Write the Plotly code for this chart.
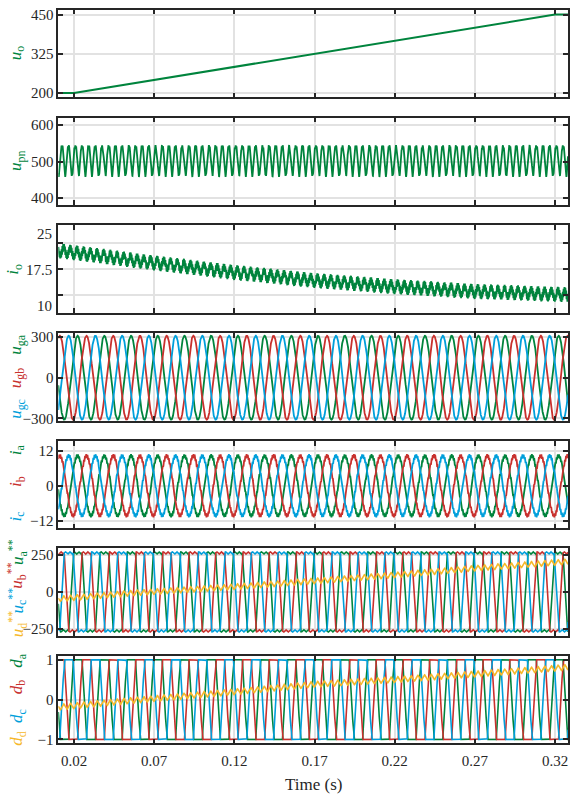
import numpy as np
import plotly.graph_objects as go

# ---------------- values ----------------
X_RANGE = [0.0102, 0.3281]
X_TICKS = [0.02, 0.07, 0.12, 0.17, 0.22, 0.27, 0.32]
X_TICK_TEXT = ["0.02", "0.07", "0.12", "0.17", "0.22", "0.27", "0.32"]

# panel 1 : output voltage u_o (piecewise straight)
UO_T = [0.0102, 0.02, 0.32, 0.3281]
UO_V = [200, 200, 450, 450]

# panel 2 : dc-link voltage u_pn
UPN_TOP = 541
UPN_DIP = 79
RIPPLE_HZ = 240

# panel 3 : output current i_o (band centre read at times)
IO_T = [0.0102, 0.07, 0.12, 0.17, 0.22, 0.27, 0.3281]
IO_MEAN = [21.6, 19.0, 17.0, 15.3, 14.0, 13.0, 12.3]
IO_SWING = 1.6

# panels 4-7 : grid quantities
F_GRID = 60.0
T_PEAK_A = 0.00556          # time where u_ga peaks
UG_PEAK = 311.0
I_PEAK = 10.2
I_RIPPLE = 0.6
USTAR_FLAT = 262.0
USTAR_RIPPLE = 8.0
UDD_T = [0.0102, 0.057, 0.119, 0.169, 0.22, 0.27, 0.3281]
UDD_MEAN = [-47, -7, 34, 73, 114, 159, 204]
UDD_SWING = 18
DD_T = [0.0102, 0.057, 0.119, 0.169, 0.22, 0.27, 0.3281]
DD_MEAN = [-0.19, -0.02, 0.19, 0.38, 0.50, 0.64, 0.81]
DD_SWING = 0.07

Y_RANGES = [[186.5, 465.7], [380.5, 621], [8.4, 26.9], [-318, 330],
            [-14.6, 15.4], [-295, 295], [-1.1, 1.1]]
Y_TICKS = [[200, 325, 450], [400, 500, 600], [12.2, 17.75, 23.3],
           [-300, 0, 300], [-12, 0, 12], [-250, 0, 250], [-1, 0, 1]]
Y_TICK_TEXT = [["200", "325", "450"], ["400", "500", "600"], ["", "", ""],
               ["−300", "0", "300"], ["−12", "0", "12"], ["−250", "0", "250"],
               ["−1", "0", "1"]]
IO_LABEL_VALS = [10, 17.5, 25]
IO_LABEL_TEXT = ["10", "17.5", "25"]

GREEN = "#00843d"
RED = "#c8312e"
BLUE = "#009fdb"
YELLOW = "#f6b82a"
DARK = "#262626"
GRID = "#e2e2e2"
FONT = "Liberation Serif"

W, H = 570, 798
PANEL_TOPS = [5.7, 115.0, 224.3, 333.3, 442.3, 551.0, 660.0]
PANEL_H = 88.8
X_LEFT, X_RIGHT = 58.3, 568.0


def px(xr):
    return xr / W


def py(yr):
    return 1 - yr / H


# ---------------- signals ----------------
t = np.arange(X_RANGE[0], X_RANGE[1] + 1e-5, 4e-5)
th = 2 * np.pi * F_GRID * (t - T_PEAK_A)
shift = 2 * np.pi / 3
ph = np.vstack([np.cos(th), np.cos(th - shift), np.cos(th + shift)])

rip = 2 * np.pi * RIPPLE_HZ * t
u_pn = UPN_TOP - UPN_DIP * ((1 - np.cos(rip)) / 2) ** 1.6 + 4 * np.sin(2 * np.pi * 1500 * t)
i_o = np.interp(t, IO_T, IO_MEAN) + IO_SWING * (0.55 * np.sin(rip) + 0.45 * np.sin(2 * np.pi * 1900 * t))
u_g = UG_PEAK * ph
i_g = I_PEAK * ph + I_RIPPLE * np.sin(2 * np.pi * 1300 * t + np.array([[0], [2.1], [4.2]]))
vmax, vmin = ph.max(axis=0), ph.min(axis=0)
d_abc = 2 * (ph - vmin) / (vmax - vmin) - 1
u_star = d_abc * (USTAR_FLAT + USTAR_RIPPLE * np.sin(2 * np.pi * 360 * t))
u_dd = np.interp(t, UDD_T, UDD_MEAN) + UDD_SWING * np.sin(rip)
d_d = np.interp(t, DD_T, DD_MEAN) + DD_SWING * np.sin(rip)

fig = go.Figure()
PH_COL = [GREEN, RED, BLUE]


def add(i, x, y, color, w=1.8):
    fig.add_trace(go.Scatter(x=x, y=y, mode="lines", line=dict(color=color, width=w),
                             xaxis="x" if i == 1 else f"x{i}",
                             yaxis="y" if i == 1 else f"y{i}",
                             hoverinfo="skip", showlegend=False))


add(1, UO_T, UO_V, GREEN, 2)
add(2, t, u_pn, GREEN, 1.8)
add(3, t, i_o, GREEN, 1.9)
for k in range(3):
    add(4, t, u_g[k], PH_COL[k], 1.8)
for k in range(3):
    add(5, t, i_g[k], PH_COL[k], 1.8)
for k in range(3):
    add(6, t, u_star[k], PH_COL[k], 1.6)
add(6, t, u_dd, YELLOW, 1.6)
for k in range(3):
    add(7, t, d_abc[k], PH_COL[k], 1.6)
add(7, t, d_d, YELLOW, 1.6)

layout = dict(width=W, height=H, margin=dict(l=0, r=0, t=0, b=0),
              paper_bgcolor="white", plot_bgcolor="white", showlegend=False,
              font=dict(family=FONT, size=15, color=DARK))
for i in range(1, 8):
    top = PANEL_TOPS[i - 1]
    dom = [py(top + PANEL_H), py(top)]
    xs = "" if i == 1 else str(i)
    layout["xaxis" + xs] = dict(
        domain=[px(X_LEFT), px(X_RIGHT)], range=X_RANGE, tickvals=X_TICKS,
        ticktext=X_TICK_TEXT, showticklabels=(i == 7), ticks="inside", ticklen=5,
        tickwidth=1.5, tickcolor=DARK, showline=True, linecolor=DARK, linewidth=1.6,
        mirror="ticks", showgrid=True, gridcolor=GRID, gridwidth=1.5, zeroline=False,
        anchor="y" + xs, ticklabelstandoff=3,
        tickfont=dict(family=FONT, size=15, color=DARK))
    if i > 1:
        layout["xaxis" + xs]["matches"] = "x"
    layout["yaxis" + xs] = dict(
        domain=dom, range=Y_RANGES[i - 1], tickvals=Y_TICKS[i - 1],
        ticktext=Y_TICK_TEXT[i - 1], ticks="inside", ticklen=5, tickwidth=1.5,
        tickcolor=DARK, showline=True, linecolor=DARK, linewidth=1.6, mirror="ticks",
        showgrid=True, gridcolor=GRID, gridwidth=1.5, zeroline=False,
        anchor="x" + xs, tickfont=dict(family=FONT, size=15, color=DARK))
fig.update_layout(**layout)

ann = []
for v, s in zip(IO_LABEL_VALS, IO_LABEL_TEXT):
    ann.append(dict(x=px(54), xref="paper", y=v, yref="y3", text=s, showarrow=False,
                    xanchor="right", yanchor="middle",
                    font=dict(family=FONT, size=15, color=DARK)))


def lab(text, color, ypx, xpx=17, size=17):
    ann.append(dict(x=px(xpx), y=py(ypx), xref="paper", yref="paper", text=text,
                    textangle=-90, showarrow=False, xanchor="center", yanchor="middle",
                    font=dict(family=FONT, size=size, color=color)))


lab("<i>u</i><sub>o</sub>", GREEN, 50)
lab("<i>u</i><sub>pn</sub>", GREEN, 159)
lab("<i>i</i><sub>o</sub>", GREEN, 269, 14)
lab("<i>u</i><sub>ga</sub>", GREEN, 345)
lab("<i>u</i><sub>gb</sub>", RED, 379)
lab("<i>u</i><sub>gc</sub>", BLUE, 410)
lab("<i>i</i><sub>a</sub>", GREEN, 452)
lab("<i>i</i><sub>b</sub>", RED, 484)
lab("<i>i</i><sub>c</sub>", BLUE, 519)
lab("<i>u</i><sub>a</sub><sup>**</sup>", GREEN, 555)
lab("<i>u</i><sub>b</sub><sup>**</sup>", RED, 579)
lab("<i>u</i><sub>c</sub><sup>**</sup>", BLUE, 604)
lab("<i>u</i><sub>d</sub><sup>**</sup>", YELLOW, 628)
lab("<i>d</i><sub>a</sub>", GREEN, 665, 18)
lab("<i>d</i><sub>b</sub>", RED, 692, 18)
lab("<i>d</i><sub>c</sub>", BLUE, 721, 18)
lab("<i>d</i><sub>d</sub>", YELLOW, 744, 18)
ann.append(dict(x=px((X_LEFT + X_RIGHT) / 2), y=py(790), xref="paper", yref="paper",
                text="Time (s)", showarrow=False, xanchor="center", yanchor="middle",
                font=dict(family=FONT, size=17, color=DARK)))
fig.update_layout(annotations=ann)

# remove the browser's default 8px body margin so the figure starts at (0, 0)
fig.write_html("out.html", config={"displayModeBar": False},
               post_script="document.body.style.margin='0';document.body.style.overflow='hidden';")
